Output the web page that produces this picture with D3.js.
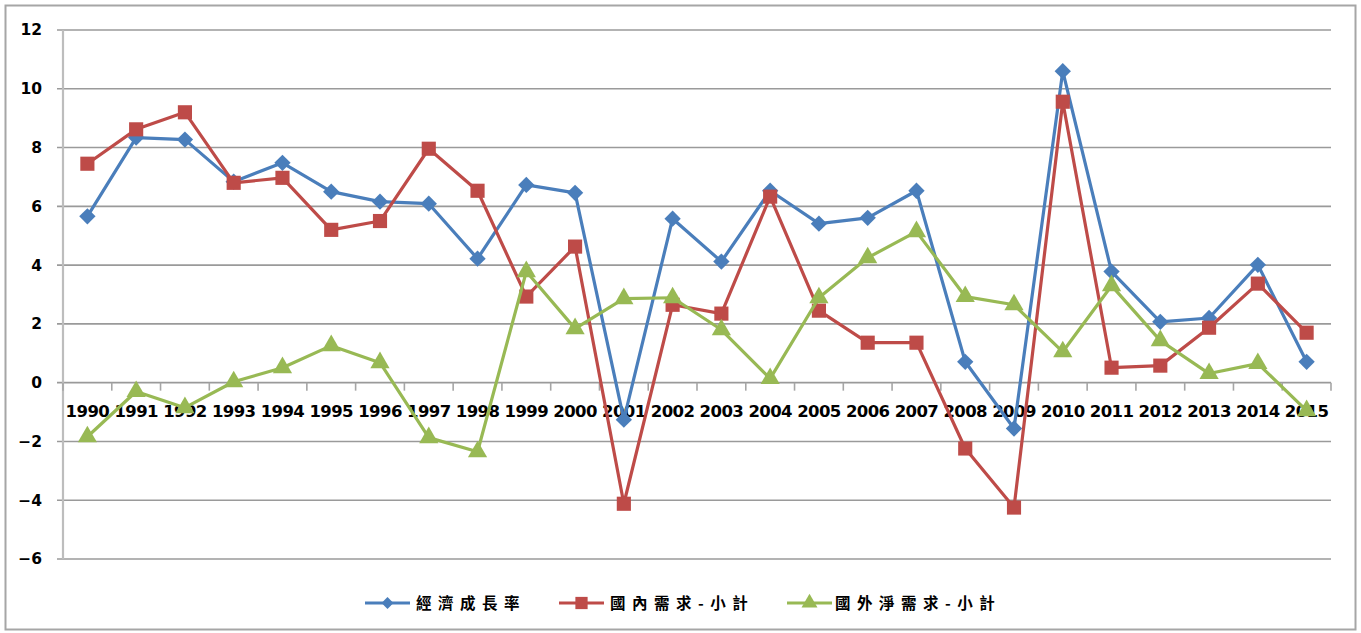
<!DOCTYPE html>
<html>
<head>
<meta charset="utf-8">
<script src="https://cdn.jsdelivr.net/npm/d3@7"></script>
<style>
  html, body { margin: 0; padding: 0; background: #fff; }
  svg { display: block; }
</style>
</head>
<body>
<svg id="chart" width="1361" height="633"></svg>
<script>
const years = ["1990","1991","1992","1993","1994","1995","1996","1997","1998","1999","2000","2001","2002","2003","2004","2005","2006","2007","2008","2009","2010","2011","2012","2013","2014","2015"];
const growthRate = [5.66, 8.34, 8.27, 6.84, 7.48, 6.50, 6.16, 6.09, 4.22, 6.73, 6.46, -1.26, 5.58, 4.12, 6.53, 5.41, 5.61, 6.53, 0.71, -1.56, 10.6, 3.78, 2.07, 2.20, 4.01, 0.71];
const domesticDemand = [7.45, 8.62, 9.20, 6.80, 6.97, 5.20, 5.50, 7.96, 6.53, 2.93, 4.63, -4.12, 2.65, 2.35, 6.33, 2.45, 1.36, 1.36, -2.24, -4.25, 9.56, 0.51, 0.58, 1.87, 3.37, 1.70];
const netForeignDemand = [-1.84, -0.30, -0.85, 0.03, 0.51, 1.26, 0.68, -1.87, -2.35, 3.78, 1.84, 2.86, 2.89, 1.80, 0.14, 2.89, 4.25, 5.14, 2.93, 2.65, 1.05, 3.30, 1.43, 0.31, 0.65, -0.95];
const yTicks = [-6, -4, -2, 0, 2, 4, 6, 8, 10, 12];
const seriesNames = ["經濟成長率", "國內需求-小計", "國外淨需求-小計"];

const svg = d3.select("#chart");

// outer border
svg.append("rect").attr("x", 5.5).attr("y", 5.5).attr("width", 1350).attr("height", 624)
  .attr("fill", "#fff").attr("stroke", "#a6a6a6").attr("stroke-width", 2);

const x = d3.scaleBand().domain(years).range([63, 1331]);
const y = d3.scaleLinear().domain([-6, 12]).range([559, 30]);
const cx = d => x(d) + x.bandwidth() / 2;

// gridlines
svg.append("g").selectAll("line").data(yTicks).join("line")
  .attr("x1", 57).attr("x2", 1331)
  .attr("y1", d => y(d)).attr("y2", d => y(d))
  .attr("stroke", "#9a9a9a").attr("stroke-width", 1.6);

// y axis
const yAxis = d3.axisLeft(y).tickValues(yTicks).tickSize(0).tickPadding(21).tickFormat(d3.format("d"));
const gy = svg.append("g").attr("transform", "translate(63,0)").call(yAxis);
gy.select(".domain").remove();
gy.selectAll("text").attr("font-family", "DejaVu Sans").attr("font-weight", "bold")
  .attr("font-size", 15.5).attr("fill", "#000");
svg.append("line").attr("x1", 63).attr("x2", 63).attr("y1", y(12)).attr("y2", y(-6))
  .attr("stroke", "#bdbdbd").attr("stroke-width", 2.2);

// x axis ticks at band boundaries
const bounds = years.map(d => x(d)).concat([x.range()[1]]);
svg.append("g").selectAll("line").data(bounds).join("line")
  .attr("x1", d => d).attr("x2", d => d)
  .attr("y1", y(0)).attr("y2", y(0) + 8)
  .attr("stroke", "#a6a6a6").attr("stroke-width", 1.6);

// x labels
const xAxis = d3.axisBottom(x).tickSize(0).tickPadding(0);
const gx = svg.append("g").attr("transform", `translate(0,${y(0)})`).call(xAxis);
gx.select(".domain").remove();
gx.selectAll("text").attr("font-family", "DejaVu Sans").attr("font-weight", "bold")
  .attr("font-size", 16.5).attr("fill", "#000").attr("dy", null).attr("y", 34)
  .attr("letter-spacing", -0.6);

const colors = ["#4a7ebb", "#be4b48", "#98b954"];
const data = [growthRate, domesticDemand, netForeignDemand];
const line = d3.line().x((d, i) => cx(years[i])).y(d => y(d));

const symbols = [
  d3.symbol().type(d3.symbolDiamond2).size(170),
  d3.symbol().type(d3.symbolSquare).size(200),
  d3.symbol().type(d3.symbolTriangle).size(160)
];

data.forEach((vals, k) => {
  const g = svg.append("g");
  g.append("path").datum(vals).attr("d", line).attr("fill", "none")
    .attr("stroke", colors[k]).attr("stroke-width", 3.2).attr("stroke-linejoin", "round");
  g.selectAll("path.m").data(vals).join("path").attr("class", "m")
    .attr("d", symbols[k])
    .attr("transform", (d, i) => `translate(${cx(years[i])},${y(d)})`)
    .attr("fill", colors[k]);
});

// legend
const legendItems = [
  { lx: 365, tx: 416 },
  { lx: 559, tx: 610 },
  { lx: 787, tx: 835 }
];
const legendSymbols = [
  d3.symbol().type(d3.symbolDiamond2).size(90),
  d3.symbol().type(d3.symbolSquare).size(150),
  d3.symbol().type(d3.symbolTriangle).size(110)
];
const lg = svg.append("g");
legendItems.forEach((it, k) => {
  lg.append("line").attr("x1", it.lx).attr("x2", it.lx + 45).attr("y1", 603).attr("y2", 603)
    .attr("stroke", colors[k]).attr("stroke-width", 3.2);
  lg.append("path").attr("d", legendSymbols[k]).attr("transform", `translate(${it.lx + 22.5},603)`)
    .attr("fill", colors[k]);
  lg.append("text").attr("x", it.tx).attr("y", 609).text(seriesNames[k])
    .attr("font-family", "Noto Sans CJK TC").attr("font-weight", "bold")
    .attr("font-size", 15.5).attr("letter-spacing", 6.5).attr("fill", "#000");
});
</script>
</body>
</html>
